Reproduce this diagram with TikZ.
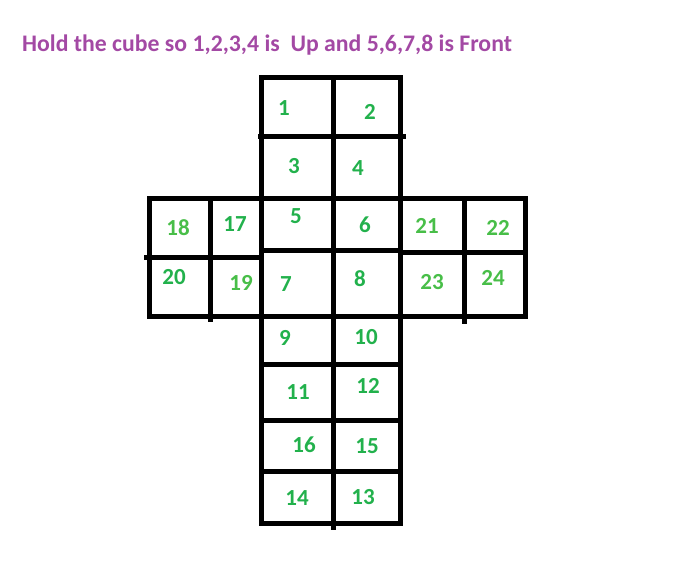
\documentclass[tikz,border=0pt]{standalone}
\usepackage{fontspec}
\setmainfont{Carlito}
\definecolor{titlepurple}{RGB}{163,73,164}
\definecolor{dgreen}{RGB}{34,177,76}
\definecolor{lgreen}{RGB}{72,190,72}
\tikzset{
  gridline/.style={line width=5pt, line cap=rect, black},
  num/.style={inner sep=0pt, font=\bfseries\fontsize{23}{25}\selectfont, text=dgreen},
  numl/.style={num, text=lgreen},
  titletext/.style={inner sep=0pt, anchor=base west, font=\bfseries\fontsize{23.75}{28}\selectfont, text=titlepurple}
}
\begin{document}
\begin{tikzpicture}[x=1pt,y=-1pt]
\useasboundingbox (0,0) rectangle (688,564);
\node[titletext] (title) at (22,52) {Hold the cube so 1,2,3,4 is\ \ Up and 5,6,7,8 is Front};
% central column horizontals
\draw[gridline] (261.5,77.5) -- (400.5,77.5);
\draw[gridline] (260.5,136.5) -- (403.5,136.5);
\draw[gridline] (149.5,198.5) -- (525.5,198.5);
\draw[gridline] (146.5,257.5) -- (261.5,257.5);
\draw[gridline] (261.5,250.5) -- (400.5,250.5);
\draw[gridline] (400.5,252.5) -- (525.5,252.5);
\draw[gridline] (149.5,316.5) -- (525.5,316.5);
\draw[gridline] (261.5,364.5) -- (400.5,364.5);
\draw[gridline] (261.5,420.5) -- (400.5,420.5);
\draw[gridline] (261.5,471.5) -- (400.5,471.5);
\draw[gridline] (261.5,523.5) -- (400.5,523.5);
% verticals
\draw[gridline] (261.5,77.5) -- (261.5,523.5);
\draw[gridline] (333,77.5) -- (333,527);
\draw[gridline] (400.5,77.5) -- (400.5,523.5);
\draw[gridline] (149.5,198.5) -- (149.5,316.5);
\draw[gridline] (210.5,198.5) -- (210.5,319);
\draw[gridline] (464.5,198.5) -- (464.5,321);
\draw[gridline] (525.5,198.5) -- (525.5,316.5);
% numbers
\node[num] (n1) at (284,108) {1};
\node[num] (n2) at (370,112) {2};
\node[num] (n3) at (294,166) {3};
\node[num] (n4) at (358,168) {4};
\node[num] (n5) at (296,216) {5};
\node[num] (n6) at (365,225) {6};
\node[num] (n17) at (235,224) {17};
\node[numl] (n18) at (178,228) {18};
\node[numl] (n21) at (427,226) {21};
\node[numl] (n22) at (498,228) {22};
\node[num] (n20) at (174,277) {20};
\node[numl] (n19) at (241,283) {19};
\node[num] (n7) at (286,284) {7};
\node[num] (n8) at (360,279) {8};
\node[numl] (n23) at (432,282) {23};
\node[numl] (n24) at (493,278) {24};
\node[num] (n9) at (285,338) {9};
\node[num] (n10) at (366,337) {10};
\node[num] (n11) at (298,392) {11};
\node[num] (n12) at (368,386) {12};
\node[num] (n16) at (304,445) {16};
\node[num] (n15) at (367,446) {15};
\node[num] (n14) at (297,498) {14};
\node[num] (n13) at (363,497) {13};
\end{tikzpicture}
\end{document}
